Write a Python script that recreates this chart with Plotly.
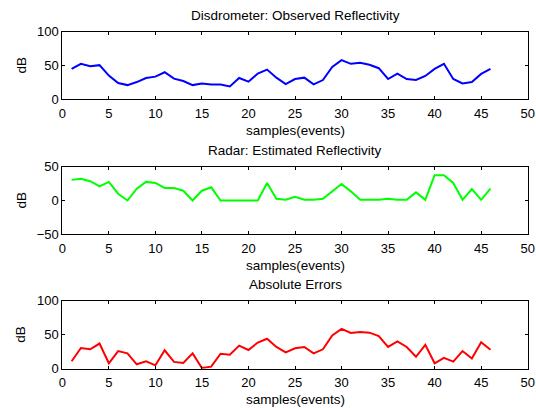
import plotly.graph_objects as go

samples = list(range(1, 47))
observed = [45, 52.5, 49, 50.5, 35, 24, 21, 25.5, 31.5, 33.5, 40, 30.5, 27, 21, 23.5, 22, 22, 19, 31.5, 26,
            38, 44, 32, 22.5, 30, 32, 22, 28.5, 48, 58, 52.5, 54, 51, 46, 30, 38, 30, 28.5, 34.5, 45,
            52.5, 30, 23.5, 25.5, 37.5, 45]
estimated = [30.5, 32, 28.5, 21, 27.5, 10, 0, 17.5, 27.5, 26, 18.5, 18.5, 14.5, 0, 14.5, 19.5, 0, 0, 0, 0,
             0, 26, 2.5, 1, 5.5, 1, 1, 2.5, 13, 24.5, 13.5, 1, 1, 1, 2.5, 1, 1, 12, 1, 37.5,
             37.5, 26, 1, 17, 1, 17.5]
abs_errors = [11, 30.5, 28.5, 37, 8, 26, 22.5, 6.5, 11, 5, 27, 10, 8.5, 22.5, 1, 3, 22, 20.5, 34, 27.5,
              38.5, 44, 32, 24, 30, 32, 22.5, 28.5, 49, 58.5, 52.5, 54, 53, 48, 32, 40, 32, 17.5, 35, 8,
              16, 10.5, 26, 15, 39, 28]

titles = ["Disdrometer: Observed Reflectivity", "Radar: Estimated Reflectivity", "Absolute Errors"]
xlabel = "samples(events)"
ylabel = "dB"
x_ticks = [0, 5, 10, 15, 20, 25, 30, 35, 40, 45, 50]
y_ranges = [[0, 100], [-50, 50], [0, 100]]
y_ticks = [[0, 50, 100], [-50, 0, 50], [0, 50, 100]]
series = [observed, estimated, abs_errors]
colors = ["#0000ff", "#00ff00", "#ff0000"]

W, H = 536, 408
x_dom = [62.3 / W, 527.7 / W]
px_tops = [31.7, 166.7, 300.7]
px_bots = [99.3, 234.3, 368.7]

FONT = "Liberation Sans, Arial, sans-serif"
fig = go.Figure()
annotations = []
for i in range(3):
    n = "" if i == 0 else str(i + 1)
    fig.add_trace(go.Scatter(x=samples, y=series[i], mode="lines",
                             line=dict(color=colors[i], width=2),
                             xaxis="x" + n, yaxis="y" + n, showlegend=False, hoverinfo="skip"))
    ydom = [1 - px_bots[i] / H, 1 - px_tops[i] / H]
    axcommon = dict(showline=True, linecolor="black", linewidth=1, mirror="ticks",
                    ticks="inside", ticklen=3, tickcolor="black", showgrid=False, zeroline=False,
                    automargin=False,
                    tickfont=dict(family=FONT, size=13, color="black"))
    fig.update_layout(**{
        "xaxis" + n: dict(domain=x_dom, range=[0, 50], tickvals=x_ticks, anchor="y" + n,
                          ticklabelstandoff=2, **axcommon),
        "yaxis" + n: dict(domain=ydom, range=y_ranges[i], tickvals=y_ticks[i], anchor="x" + n, **axcommon),
    })
    annotations.append(dict(text=titles[i], x=(x_dom[0] + x_dom[1]) / 2, y=1 - (px_tops[i] - 16) / H,
                            xref="paper", yref="paper", showarrow=False,
                            font=dict(family=FONT, size=13.5, color="black"), yanchor="middle"))
    annotations.append(dict(text=xlabel, x=(x_dom[0] + x_dom[1]) / 2, y=1 - (px_bots[i] + 31) / H,
                            xref="paper", yref="paper", showarrow=False,
                            font=dict(family=FONT, size=13.5, color="black"), yanchor="middle"))
    annotations.append(dict(text=ylabel, x=21 / W, y=1 - (px_tops[i] + px_bots[i]) / 2 / H,
                            xref="paper", yref="paper", showarrow=False, textangle=-90,
                            font=dict(family=FONT, size=13.5, color="black"),
                            xanchor="center", yanchor="middle"))

fig.update_layout(template="none", width=W, height=H, margin=dict(l=0, r=0, t=0, b=0, autoexpand=False),
                  paper_bgcolor="white", plot_bgcolor="white", annotations=annotations)
fig.write_html("out.html", config={"displayModeBar": False},
               post_script="document.body.style.margin='0';document.body.style.overflow='hidden';")
